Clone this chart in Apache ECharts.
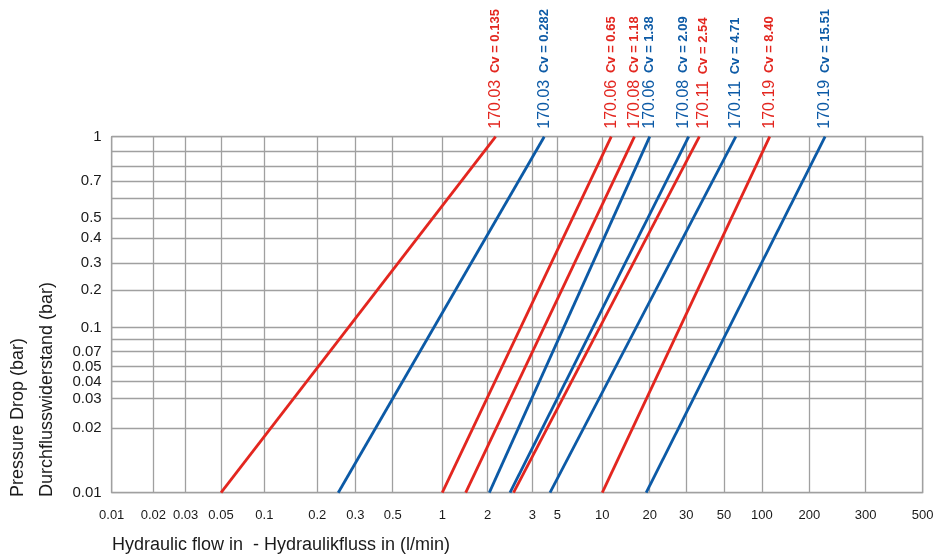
<!DOCTYPE html>
<html><head><meta charset="utf-8">
<script src="https://cdn.jsdelivr.net/npm/echarts@6/dist/echarts.min.js"></script>
<style>html,body{margin:0;padding:0;background:#fff}#c{width:949px;height:557px}</style>
</head><body><div id="c"></div>
<script>
// ---------------- data ----------------
const models       = ['170.03', '170.03', '170.06', '170.08', '170.06', '170.08', '170.11', '170.11', '170.19', '170.19'];
const cvValues     = ['0.135', '0.282', '0.65', '1.18', '1.38', '2.09', '2.54', '4.71', '8.40', '15.51'];
const colorKeys    = ['red', 'blue', 'red', 'red', 'blue', 'blue', 'red', 'blue', 'red', 'blue'];
// flow (l/min) where each curve meets the 0.01 bar line and the 1 bar line
const flowAt001bar = [0.05, 0.25, 1.0, 1.43, 2.03, 2.45, 2.53, 4.31, 10, 19];
const flowAt1bar   = [2.15, 3.83, 11.4, 16, 20, 31, 35.8, 62, 112, 224];
const pressureLow  = 0.01;
const pressureHigh = 1;

const xTickLabels  = ['0.01','0.02','0.03','0.05','0.1','0.2','0.3','0.5','1','2','3','5','10','20','30','50','100','200','300','500'];
const yTickLabels  = ['0.01','0.02','0.03','0.04','0.05','0.07','0.1','0.2','0.3','0.4','0.5','0.7','1'];
const yUnlabeledGrid = ['0.08','0.6','0.8','0.9'];

// ---------------- axis paper (the original uses a hand-spaced log paper) ----------------
// value -> share of axis length (%), interpolated logarithmically between neighbours
const xPaper = [[0.01,0],[0.02,5.13],[0.03,9.12],[0.05,13.48],[0.1,18.82],[0.2,25.35],[0.3,30.04],[0.5,34.65],
  [1,40.76],[2,46.36],[3,51.86],[5,54.94],[10,60.49],[20,66.34],[30,70.85],[50,75.50],[100,80.18],[200,86.02],[300,92.97],[500,100]];
const yPaper = [[0.01,0],[0.02,18.17],[0.03,26.40],[0.04,31.18],[0.05,35.39],[0.07,39.61],[0.08,43.09],[0.1,46.40],
  [0.2,56.94],[0.3,64.52],[0.4,71.46],[0.5,77.08],[0.6,82.70],[0.7,87.47],[0.8,91.77],[0.9,95.98],[1,100]];

function toPaper(stops, v) {
  if (v <= stops[0][0]) return stops[0][1];
  for (let i = 1; i < stops.length; i++) {
    const a = stops[i - 1], b = stops[i];
    if (v <= b[0]) {
      const t = Math.log(v / a[0]) / Math.log(b[0] / a[0]);
      return a[1] + t * (b[1] - a[1]);
    }
  }
  return stops[stops.length - 1][1];
}
function labelFor(list, stops, v) {
  for (const s of list) if (Math.abs(toPaper(stops, +s) - v) < 1e-6) return s;
  return '';
}

const palette = { red: '#e3261f', blue: '#0c5aa6' };
const GRID = '#a0a0a0';
const sans = "'Liberation Sans',Arial,sans-serif";

const xLabelVals = xTickLabels.map(s => toPaper(xPaper, +s));
const yLabelVals = yTickLabels.map(s => toPaper(yPaper, +s));
const yGridVals = yTickLabels.concat(yUnlabeledGrid).map(s => toPaper(yPaper, +s)).sort((a, b) => a - b);
const labelNudge = { 5: -5, 6: 4 };

const chart = echarts.init(document.getElementById('c'), null, { renderer: 'canvas' });
chart.setOption({
  animation: false,
  backgroundColor: '#fff',
  grid: { left: 111.7, right: 26.3, top: 136.7, bottom: 64.3, show: true, borderColor: GRID, borderWidth: 1.3, containLabel: false },
  xAxis: {
    type: 'value', min: 0, max: 100,
    axisLine: { show: false },
    axisTick: { show: false, customValues: xLabelVals },
    splitLine: { show: true, lineStyle: { color: GRID, width: 1.3 } },
    axisLabel: {
      customValues: xLabelVals, margin: 16, color: '#1a1a1a',
      fontFamily: sans, fontSize: 13,
      formatter: v => labelFor(xTickLabels, xPaper, v)
    }
  },
  yAxis: {
    type: 'value', min: 0, max: 100,
    axisLine: { show: false },
    axisTick: { show: false, customValues: yGridVals },
    splitLine: { show: true, lineStyle: { color: GRID, width: 1.3 } },
    axisLabel: {
      customValues: yLabelVals, margin: 10, color: '#1a1a1a',
      fontFamily: sans, fontSize: 15,
      formatter: v => labelFor(yTickLabels, yPaper, v)
    }
  },
  graphic: [
    { type: 'text', x: 112, y: 545, style: { text: 'Hydraulic flow in  - Hydraulikfluss in (l/min)', font: '18px ' + sans, fill: '#1a1a1a', verticalAlign: 'middle' } },
    { type: 'text', x: 18.5, y: 497, rotation: Math.PI / 2, style: { text: 'Pressure Drop (bar)', font: '18px ' + sans, fill: '#1a1a1a', align: 'left', verticalAlign: 'middle' } },
    { type: 'text', x: 47.5, y: 497, rotation: Math.PI / 2, style: { text: 'Durchflusswiderstand (bar)', font: '18px ' + sans, fill: '#1a1a1a', align: 'left', verticalAlign: 'middle' } }
  ],
  series: models.map((m, i) => {
    const c = palette[colorKeys[i]];
    return {
      type: 'line',
      name: m + ' Cv = ' + cvValues[i],
      data: [
        [toPaper(xPaper, flowAt001bar[i]), toPaper(yPaper, pressureLow)],
        { value: [toPaper(xPaper, flowAt1bar[i]), toPaper(yPaper, pressureHigh)], label: { show: true } }
      ],
      symbol: 'circle', symbolSize: 0, showSymbol: true, silent: true, clip: false,
      lineStyle: { color: c, width: 2.8 },
      itemStyle: { color: c },
      label: {
        show: false, position: 'top', distance: 8, rotate: 90, align: 'left', verticalAlign: 'middle',
        offset: [0, labelNudge[i] || 0],
        fontSize: 12,
        formatter: '{a|' + m + '}  {b|Cv = ' + cvValues[i] + '}',
        rich: {
          a: { fontFamily: sans, fontSize: 16, color: c },
          b: { fontFamily: sans, fontSize: 13, fontWeight: 'bold', color: c }
        }
      }
    };
  })
});
</script></body></html>
